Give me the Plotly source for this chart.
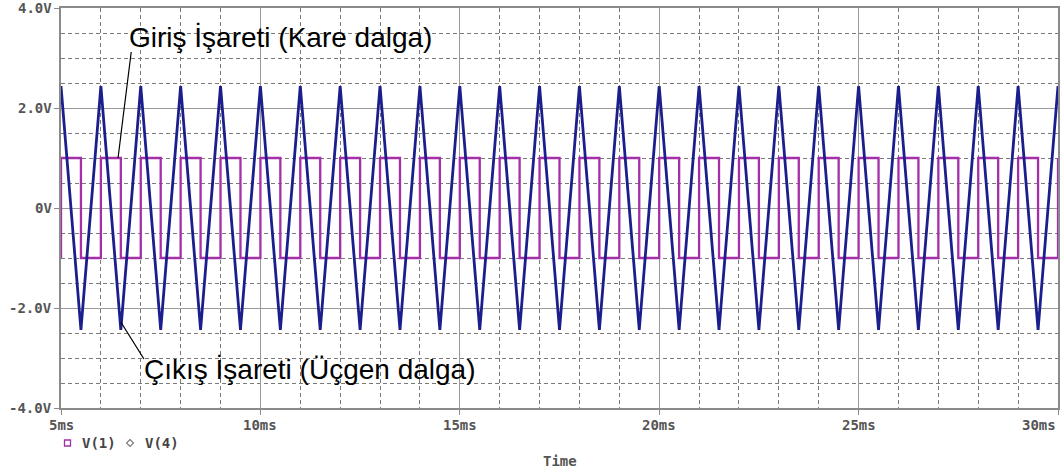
import plotly.graph_objects as go

# ---- data ----
# V(4): triangle output, vertices every 0.5 ms
tri_t = [5.0, 5.5, 6.0, 6.5, 7.0, 7.5, 8.0, 8.5, 9.0, 9.5, 10.0, 10.5, 11.0, 11.5, 12.0, 12.5,
         13.0, 13.5, 14.0, 14.5, 15.0, 15.5, 16.0, 16.5, 17.0, 17.5, 18.0, 18.5, 19.0, 19.5,
         20.0, 20.5, 21.0, 21.5, 22.0, 22.5, 23.0, 23.5, 24.0, 24.5, 25.0, 25.5, 26.0, 26.5,
         27.0, 27.5, 28.0, 28.5, 29.0, 29.5, 30.0]
tri_v = [2.44, -2.44, 2.44, -2.44, 2.44, -2.44, 2.44, -2.44, 2.44, -2.44, 2.44, -2.44, 2.44, -2.44,
         2.44, -2.44, 2.44, -2.44, 2.44, -2.44, 2.44, -2.44, 2.44, -2.44, 2.44, -2.44, 2.44, -2.44,
         2.44, -2.44, 2.44, -2.44, 2.44, -2.44, 2.44, -2.44, 2.44, -2.44, 2.44, -2.44, 2.44, -2.44,
         2.44, -2.44, 2.44, -2.44, 2.44, -2.44, 2.44, -2.44, 2.44]
# V(1): square input, edges every 0.5 ms
sq_t = [5.0, 5.0, 5.5, 6.0, 6.5, 7.0, 7.5, 8.0, 8.5, 9.0, 9.5, 10.0, 10.5, 11.0, 11.5, 12.0, 12.5,
        13.0, 13.5, 14.0, 14.5, 15.0, 15.5, 16.0, 16.5, 17.0, 17.5, 18.0, 18.5, 19.0, 19.5,
        20.0, 20.5, 21.0, 21.5, 22.0, 22.5, 23.0, 23.5, 24.0, 24.5, 25.0, 25.5, 26.0, 26.5,
        27.0, 27.5, 28.0, 28.5, 29.0, 29.5, 30.0]
sq_v = [-1, 1, -1, 1, -1, 1, -1, 1, -1, 1, -1, 1, -1, 1, -1, 1, -1, 1, -1, 1, -1, 1, -1, 1, -1, 1,
        -1, 1, -1, 1, -1, 1, -1, 1, -1, 1, -1, 1, -1, 1, -1, 1, -1, 1, -1, 1, -1, 1, -1, 1, -1, 1]

y_tickvals = [4, 2, 0, -2, -4]
y_ticktext = ["4.0V", "2.0V", "0V", "-2.0V", "-4.0V"]
x_tickvals = [5, 10, 15, 20, 25, 30]
x_ticktext = ["5ms", "10ms", "15ms", "20ms", "25ms", "30ms"]

legend_names = ["V(1)", "V(4)"]
label_in = "Giriş İşareti (Kare dalga)"
label_out = "Çıkış İşareti (Üçgen dalga)"

SQ_COLOR = "#a42fa8"
TRI_COLOR = "#1b1f8c"
MONO = "DejaVu Sans Mono"
GRAY = "#555555"

fig = go.Figure()
fig.add_trace(go.Scatter(x=sq_t, y=sq_v, mode="lines", line=dict(color=SQ_COLOR, width=2.3, shape="hv"),
                         name=legend_names[0], showlegend=False))
fig.add_trace(go.Scatter(x=tri_t, y=tri_v, mode="lines", line=dict(color=TRI_COLOR, width=2.8),
                         name=legend_names[1], showlegend=False))

W, H = 1061, 473
L, R, T, B = 61, 3, 8, 65
pw, ph = W - L - R, H - T - B

def px(xp):
    return (xp - L) / pw

def py(yp):
    return (H - B - yp) / ph

fig.update_layout(
    width=W, height=H,
    margin=dict(l=L, r=R, t=T, b=B, autoexpand=False),
    paper_bgcolor="white", plot_bgcolor="white",
    showlegend=False,
)
fig.update_xaxes(
    range=[5, 30], tickvals=x_tickvals, showticklabels=False,
    showgrid=True, gridcolor="#9a9a9a", gridwidth=1,
    showline=True, linecolor="#8a8a8a", linewidth=1.5, mirror=True,
    ticks="outside", ticklen=5, tickcolor="#8a8a8a",
    zeroline=False,
    minor=dict(tickmode="linear", tick0=5, dtick=1, showgrid=True, gridcolor="#7a7a7a",
               griddash="4px,3px", gridwidth=1, ticks=""),
)
fig.update_yaxes(
    range=[-4, 4], tickvals=y_tickvals, showticklabels=False,
    showgrid=True, gridcolor="#9a9a9a", gridwidth=1,
    showline=True, linecolor="#8a8a8a", linewidth=1.5, mirror=True,
    ticks="outside", ticklen=5, tickcolor="#8a8a8a",
    zeroline=False,
    minor=dict(tickmode="linear", tick0=0, dtick=0.5, showgrid=True, gridcolor="#7a7a7a",
               griddash="4px,3px", gridwidth=1, ticks=""),
)

tick_font = dict(family=MONO, size=14, color=GRAY, weight="bold")
ann = []
for v, t in zip(x_tickvals, x_ticktext):
    ann.append(dict(x=v, y=py(425), xref="x", yref="paper", text=t, showarrow=False,
                    xanchor="right" if v == 30 else "center", yanchor="middle", font=tick_font))
for v, t in zip(y_tickvals, y_ticktext):
    ann.append(dict(x=px(54), y=v, xref="paper", yref="y", text=t, showarrow=False,
                    xanchor="right", yanchor="middle", font=tick_font))
ann.append(dict(x=px(560), y=py(461), xref="paper", yref="paper", text="Time", showarrow=False,
                xanchor="center", yanchor="middle", font=tick_font))
ann.append(dict(x=px(80), y=py(443), xref="paper", yref="paper", text=legend_names[0], showarrow=False,
                xanchor="left", yanchor="middle", font=dict(family=MONO, size=14, color="#444444", weight="bold")))
ann.append(dict(x=px(143), y=py(443), xref="paper", yref="paper", text=legend_names[1], showarrow=False,
                xanchor="left", yanchor="middle", font=dict(family=MONO, size=14, color="#444444", weight="bold")))
ann.append(dict(x=10.5, y=3.42, xref="x", yref="y", text=label_in, showarrow=False,
                xanchor="center", yanchor="middle", font=dict(family="Liberation Sans", size=28, color="black")))
ann.append(dict(x=11.22, y=-3.22, xref="x", yref="y", text=label_out, showarrow=False,
                xanchor="center", yanchor="middle", font=dict(family="Liberation Sans", size=28, color="black")))
fig.update_layout(annotations=ann)

shapes = [
    # pointer lines
    dict(type="line", xref="x", yref="y", x0=6.76, y0=3.12, x1=6.43, y1=1.0,
         line=dict(color="black", width=1.2)),
    dict(type="line", xref="x", yref="y", x0=6.5, y0=-2.28, x1=7.08, y1=-3.02,
         line=dict(color="black", width=1.2)),
    # legend markers
    dict(type="rect", xref="paper", yref="paper", x0=px(64.5), x1=px(70.5), y0=py(446), y1=py(440),
         line=dict(color=SQ_COLOR, width=1.3)),
    dict(type="path", xref="paper", yref="paper",
         path=f"M {px(130)} {py(439.5)} L {px(133.5)} {py(443)} L {px(130)} {py(446.5)} L {px(126.5)} {py(443)} Z",
         line=dict(color="#777777", width=1.1)),
]
fig.update_layout(shapes=shapes)

fig.write_html("out.html")
